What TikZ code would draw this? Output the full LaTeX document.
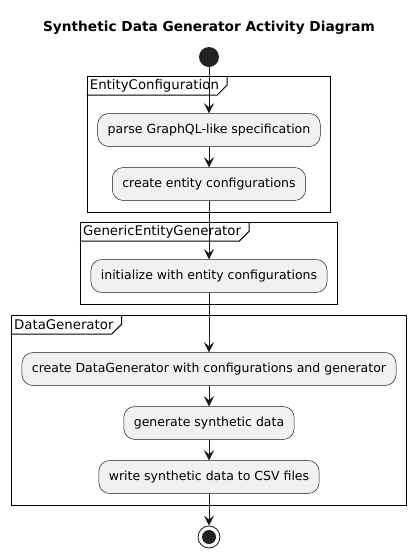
\documentclass[tikz,border=0pt]{standalone}
\usepackage{fontspec}
\setmainfont{DejaVu Sans}
\usetikzlibrary{positioning,fit,arrows.meta}

\definecolor{umlfill}{HTML}{F1F1F1}
\definecolor{umlline}{HTML}{181818}
\definecolor{umldot}{HTML}{222222}

\begin{document}
\begin{tikzpicture}[
    x=1pt,y=1pt,on grid,>={Stealth[length=10pt,width=10pt,inset=4pt]},
    every node/.style={font=\fontsize{12.5}{15}\selectfont},
    action/.style={draw=umlline,line width=.5pt,fill=umlfill,rounded corners=11pt,minimum height=33pt,inner xsep=10pt},
    frame/.style={draw=black,line width=1.5pt,inner xsep=10pt,inner ysep=11.5pt},
    tab/.style={anchor=north west,inner xsep=3pt,inner ysep=0pt,minimum height=19pt,font=\fontsize{13.3}{15}\selectfont},
    flow/.style={->,draw=umlline,line width=.8pt}
]
    \useasboundingbox (0,0) rectangle (418,-558);
    % title and start
    \node[font=\fontsize{13.7}{16}\selectfont\bfseries] (title) at (209,-28) {Synthetic Data Generator Activity Diagram};
    \node[circle,fill=umldot,minimum size=20pt,inner sep=0pt,below=29pt of title] (start) {};
    % EntityConfiguration
    \node[action,below=73pt of start] (parse) {parse GraphQL-like specification};
    \node[action,below=54pt of parse] (create) {create entity configurations};
    \coordinate[above=42pt of parse] (ec-top);
    \node[frame,fit=(ec-top)(parse)(create)] (ec) {};
    % GenericEntityGenerator
    \node[action,below=92pt of create] (init) {initialize with entity configurations};
    \coordinate[above=42pt of init] (gen-top);
    \node[frame,fit=(gen-top)(init)] (gen) {};
    % DataGenerator
    \node[action,below=93pt of init] (makedg) {create DataGenerator with configurations and generator};
    \node[action,below=54pt of makedg] (synth) {generate synthetic data};
    \node[action,below=54pt of synth] (csv) {write synthetic data to CSV files};
    \coordinate[above=42pt of makedg] (dg-top);
    \node[frame,fit=(dg-top)(makedg)(synth)(csv)] (dg) {};
    % end
    \node[circle,draw=umlline,line width=.8pt,fill=white,minimum size=22pt,inner sep=0pt,below=60pt of csv] (stop) {};
    \node[circle,fill=umldot,minimum size=14pt,inner sep=0pt] at (stop) (stopdot) {};
    % frame tabs
    \foreach \fr/\txt in {ec/EntityConfiguration,gen/GenericEntityGenerator,dg/DataGenerator}{
        \node[tab] at (\fr.north west) (\fr-lbl) {\txt};
        \draw[line width=1pt] (\fr-lbl.south west) -- ([xshift=-5pt]\fr-lbl.south east)
            -- ([xshift=5pt,yshift=10pt]\fr-lbl.south east) -- ([xshift=5pt]\fr-lbl.north east);
    }
    % flows
    \draw[flow] (start) -- (parse);
    \draw[flow] (parse) -- (create);
    \draw[flow] (create) -- (init);
    \draw[flow] (init) -- (makedg);
    \draw[flow] (makedg) -- (synth);
    \draw[flow] (synth) -- (csv);
    \draw[flow] (csv) -- (stop);
\end{tikzpicture}
\end{document}
